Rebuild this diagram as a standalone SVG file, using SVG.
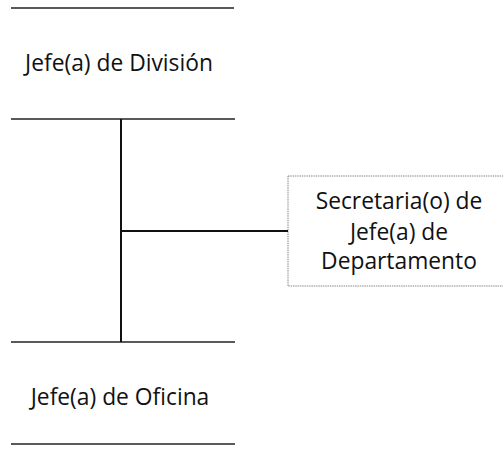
<svg xmlns="http://www.w3.org/2000/svg" width="503" height="454" viewBox="0 0 503 454">
<style>
text{font-family:"Open Sans","Noto Sans","Liberation Sans",sans-serif;font-size:22.8px;fill:#111;text-anchor:middle}
.rule{stroke:#222;stroke-width:1.3;fill:none}
.conn{stroke:#111;stroke-width:2;fill:none}
.box{stroke:#888;stroke-width:1;fill:#fff;stroke-dasharray:1.5 0.8}
</style>
<rect width="503" height="454" fill="#fff"/>
<g id="jefe-division">
<line class="rule" x1="11" y1="8" x2="234" y2="8"/>
<text x="119" y="71">Jefe(a) de División</text>
<line class="rule" x1="11" y1="119" x2="235" y2="119"/>
</g>
<g id="jefe-oficina">
<line class="rule" x1="11" y1="342" x2="235" y2="342"/>
<text x="120" y="405">Jefe(a) de Oficina</text>
<line class="rule" x1="11" y1="444" x2="235" y2="444"/>
</g>
<g id="secretaria">
<rect class="box" x="288" y="176" width="230" height="110"/>
<text x="399" y="209">Secretaria(o) de</text>
<text x="399" y="240">Jefe(a) de</text>
<text x="399" y="269">Departamento</text>
</g>
<g id="connectors">
<line class="conn" x1="121" y1="119" x2="121" y2="342"/>
<line class="conn" x1="121" y1="231" x2="288" y2="231"/>
</g>
</svg>
